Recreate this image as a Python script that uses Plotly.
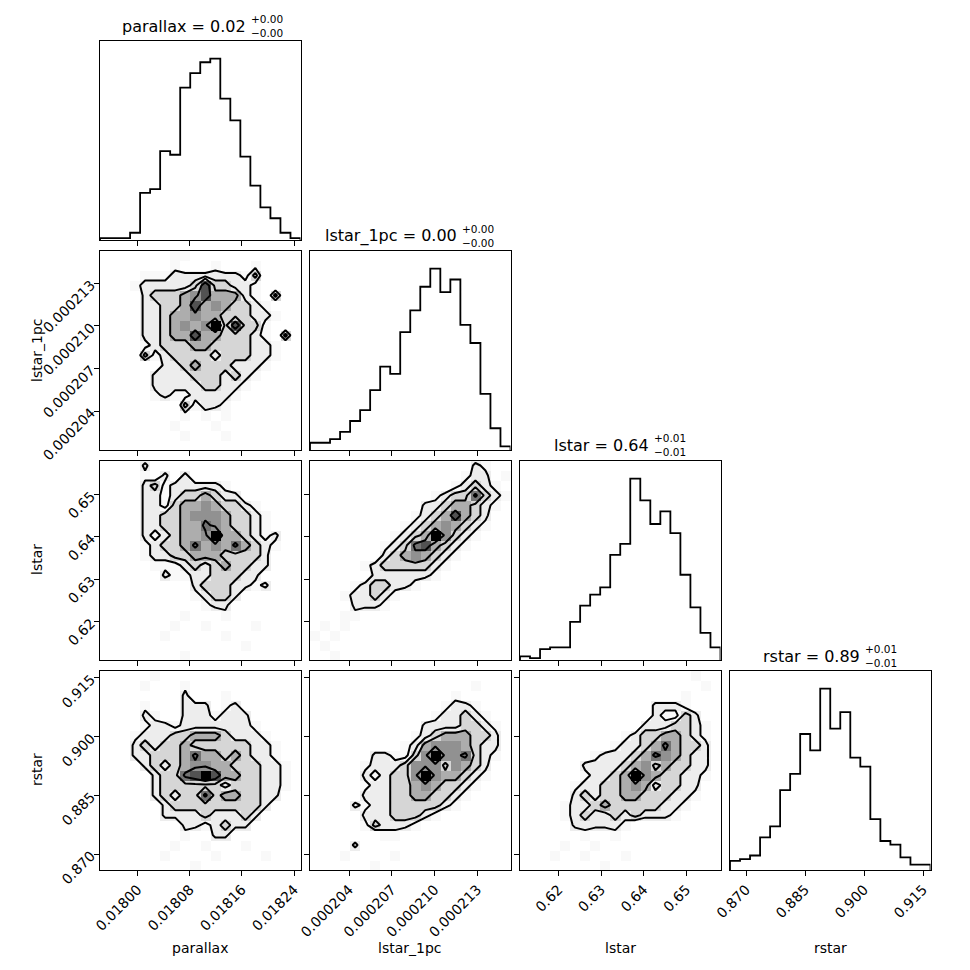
import numpy as np
import plotly.graph_objects as go

# nombres de los parámetros del corner plot
params = ["parallax", "lstar_1pc", "lstar", "rstar"]

# límites de los ejes
rango_parallax = [0.0179422, 0.0182498]
rango_lstar_1pc = [0.00020126, 0.00021532]
rango_lstar = [0.61095, 0.65803]
rango_rstar = [0.86593, 0.91688]

# marcas de los ejes
ticks_parallax = [0.01800, 0.01808, 0.01816, 0.01824]
ticks_lstar_1pc = [0.000204, 0.000207, 0.000210, 0.000213]
ticks_lstar = [0.62, 0.63, 0.64, 0.65]
ticks_rstar = [0.870, 0.885, 0.900, 0.915]
etiquetas_parallax = ["0.01800", "0.01808", "0.01816", "0.01824"]
etiquetas_lstar_1pc = ["0.000204", "0.000207", "0.000210", "0.000213"]
etiquetas_lstar = ["0.62", "0.63", "0.64", "0.65"]
etiquetas_rstar = ["0.870", "0.885", "0.900", "0.915"]

# valores de los títulos (mediana y errores)
medianas = ["0.02", "0.00", "0.64", "0.89"]
err_mas = ["0.00", "0.00", "0.01", "0.01"]
err_menos = ["0.00", "0.00", "0.01", "0.01"]

# histogramas 1D (20 bins, cuentas estimadas)
hist_parallax = [1, 1, 1, 4, 26, 28, 49, 47, 84, 92, 98, 100, 78, 66, 46, 30, 18, 12, 4, 1]
hist_lstar_1pc = [4, 4, 6, 10, 16, 22, 33, 46, 42, 65, 77, 90, 100, 87, 94, 69, 59, 31, 12, 2]
hist_lstar = [2, 1, 6, 7, 7, 21, 30, 36, 40, 58, 64, 100, 88, 75, 82, 70, 47, 29, 15, 7]
hist_rstar = [5, 6, 8, 18, 24, 44, 53, 75, 66, 100, 78, 87, 62, 57, 28, 16, 14, 7, 3, 3]

# niveles de contorno (en las unidades de las grillas 2D)
niveles_contorno = [1.5, 2.5, 3.5, 5.5]

# tono de gris para cada valor 0-9 de las grillas (1 = blanco)
grises = [1.0, 0.975, 0.93, 0.84, 0.68, 0.57, 0.45, 0.32, 0.16, 0.0]

# histogramas 2D (20x20, fila de arriba primero, cuentas relativas 0-9)
dens_parallax_lstar_1pc = [
    "00000001100000000000",
    "00000001000100010000",
    "00001112222222130000",
    "00012222237332210000",
    "00002333457444210300",
    "00002233474543321000",
    "00002234454433322100",
    "00002234545937331000",
    "00002234474433321030",
    "00001233344333322100",
    "00003123333233322100",
    "00000022343332221000",
    "00000222233323210000",
    "00000222223322100000",
    "00000121122221000000",
    "00000000312210000000",
    "00000000101010000000",
    "00000001000100000000",
    "00000000100010000000",
    "00000000000000000000",
]
dens_parallax_lstar = [
    "00002000000000000000",
    "00001020200000000000",
    "00002312222210000000",
    "00002212334322000000",
    "00002213445433210000",
    "00002233455543321000",
    "00002233446543321000",
    "00002123445944321200",
    "00001233464546432100",
    "00001223344433332000",
    "00000111232343322000",
    "00000021122333220000",
    "00000000023332212000",
    "00000000012332000000",
    "00000000001220000000",
    "00000000100010000000",
    "00000001001000010000",
    "00000010000010000000",
    "00000000000000100000",
    "00000000100000000000",
]
dens_lstar_1pc_lstar = [
    "00000000000000002100",
    "00000000000000012201",
    "00000000000000123210",
    "00000000000012336321",
    "00000000000223443210",
    "00000000001234743200",
    "00000000012345432100",
    "00000000123495321000",
    "00000001236743210000",
    "00000002345432100000",
    "00000123333321000000",
    "00000022222210000000",
    "00001233221000000000",
    "00012232100000000000",
    "00002221000000000000",
    "00011000000000000000",
    "01010000000000000000",
    "10100000000000000000",
    "01000000000000000000",
    "00100000000000000000",
]
dens_parallax_rstar = [
    "00000100000000000000",
    "00001000100000000000",
    "00000000200010000000",
    "00001000222012000000",
    "00002100222122200000",
    "00001221222222210000",
    "00012223344432221000",
    "00023233433333322100",
    "00022333464434322100",
    "00002323455443332210",
    "00000233679744332210",
    "00000233333323332210",
    "00000232336344332200",
    "00000023333333332000",
    "00000022223222320000",
    "00000000221232200000",
    "00000000100220000000",
    "00000001001000100000",
    "00000010000100001000",
    "00000000010000000000",
]
dens_lstar_1pc_rstar = [
    "00000000000000000000",
    "00000000000000001000",
    "00000000000000100000",
    "00000000000001221000",
    "00000000000012232100",
    "00000000000222233210",
    "00000000001234443320",
    "00000000012455543220",
    "00000022113595563210",
    "00000122235553543200",
    "00000212335954432100",
    "00000122334543321000",
    "00000222334433210000",
    "00002122333332100000",
    "00000222333210000000",
    "00000132221000000000",
    "00000001100000000000",
    "00002000000000000000",
    "00010000100000000000",
    "00000010000000000000",
]
dens_lstar_rstar = [
    "00000000000000000100",
    "00000000000000000010",
    "00000000000000001000",
    "00000000000002221000",
    "00000000000002113200",
    "00000000000022233210",
    "00000000001233443210",
    "00000000012234643320",
    "00000001222346543220",
    "00000022223453433220",
    "00000012234954332210",
    "00000122334542332200",
    "00000232334433322100",
    "00001223433333221000",
    "00001232232322210000",
    "00000222221000000000",
    "00000010010000000000",
    "00001001000000000000",
    "00010010001000000000",
    "00000000100000000000",
]

rangos = [rango_parallax, rango_lstar_1pc, rango_lstar, rango_rstar]
ticks = [ticks_parallax, ticks_lstar_1pc, ticks_lstar, ticks_rstar]
etiquetas = [etiquetas_parallax, etiquetas_lstar_1pc, etiquetas_lstar, etiquetas_rstar]
hists = [hist_parallax, hist_lstar_1pc, hist_lstar, hist_rstar]
dens = {(1, 0): dens_parallax_lstar_1pc, (2, 0): dens_parallax_lstar, (2, 1): dens_lstar_1pc_lstar,
        (3, 0): dens_parallax_rstar, (3, 1): dens_lstar_1pc_rstar, (3, 2): dens_lstar_rstar}

W = 970
OFF = 8  # margen del body de la página
FUENTE = "DejaVu Sans"
NB = 20


def px(x):
    return (x - OFF) / W


def py(y):
    return 1 - (y - OFF) / W


def a_grilla(filas):
    H = np.array([[int(ch) for ch in f.ljust(NB, "0")[:NB]] for f in filas], dtype=float)
    return H[::-1]  # fila de abajo primero


# escala de grises por valor
escala = []
for k, g in enumerate(grises):
    c = int(round(255 * g))
    escala.append([k / (len(grises) - 1), f"rgb({c},{c},{c})"])

fig = go.Figure()
layout = dict(width=W, height=W, margin=dict(l=0, r=0, t=0, b=0, autoexpand=False),
              plot_bgcolor="white", paper_bgcolor="white", showlegend=False,
              font=dict(family=FUENTE, size=14, color="black"))
anotaciones = []

# borde derecho del texto principal de cada título (px)
borde_titulo = [248, 459, 651, 862]

n = 0
for i in range(4):
    for j in range(i + 1):
        n += 1
        xs = "x" if n == 1 else f"x{n}"
        ys = "y" if n == 1 else f"y{n}"
        x0 = 100 + 210 * j
        top = 40.5 + 210 * i
        eje_x = dict(domain=[px(x0), px(x0 + 200.5)], anchor=ys, range=rangos[j], automargin=False,
                     tickvals=ticks[j], ticktext=etiquetas[j], showticklabels=(i == 3),
                     tickangle=-45, ticks="outside", ticklen=5, tickwidth=1, tickcolor="black",
                     showline=True, mirror=True, linecolor="black", linewidth=1,
                     showgrid=False, zeroline=False, tickfont=dict(size=14))
        eje_y = dict(domain=[py(top + 199.5), py(top)], anchor=xs, automargin=False,
                     showline=True, mirror=True, linecolor="black", linewidth=1,
                     showgrid=False, zeroline=False, tickangle=-45, tickfont=dict(size=14))
        lo, hi = rangos[j]
        bordes_x = np.linspace(lo, hi, NB + 1)
        if i == j:
            cuentas = hists[j]
            eje_y.update(range=[0, 1.1 * max(cuentas)], ticks="", showticklabels=False)
            xh = [bordes_x[0]] + list(bordes_x) + [bordes_x[-1]]
            yh = [0] + list(cuentas) + [cuentas[-1], 0]
            fig.add_trace(go.Scatter(x=xh, y=yh, mode="lines", line=dict(color="black", width=1.8, shape="hv"),
                                     xaxis=xs, yaxis=ys, hoverinfo="skip"))
            # título con errores apilados
            bx = borde_titulo[j]
            anotaciones.append(dict(text=f"{params[j]} = {medianas[j]}", x=px(bx), y=py(top - 14.5),
                                    xref="paper", yref="paper", showarrow=False,
                                    xanchor="right", yanchor="middle", font=dict(size=16)))
            anotaciones.append(dict(text="+" + err_mas[j] + "<br>\u2212" + err_menos[j],
                                    x=px(bx + 1), y=py(top - 15), align="left",
                                    xref="paper", yref="paper", showarrow=False,
                                    xanchor="left", yanchor="middle", font=dict(size=10.5)))
        else:
            ylo, yhi = rangos[i]
            bordes_y = np.linspace(ylo, yhi, NB + 1)
            eje_y.update(range=rangos[i], tickvals=ticks[i], ticktext=etiquetas[i],
                         showticklabels=(j == 0), ticks="outside", ticklen=5, tickwidth=1, tickcolor="black")
            H = a_grilla(dens[(i, j)])
            fig.add_trace(go.Heatmap(x=bordes_x, y=bordes_y, z=H, zmin=0, zmax=len(grises) - 1,
                                     colorscale=escala, showscale=False, xaxis=xs, yaxis=ys, hoverinfo="skip"))
            # contornos sobre centros de bin, con borde de ceros
            dx = bordes_x[1] - bordes_x[0]
            dy = bordes_y[1] - bordes_y[0]
            cxs = np.concatenate([bordes_x[0] + dx * np.array([-1.5, -0.5]), 0.5 * (bordes_x[1:] + bordes_x[:-1]),
                                  bordes_x[-1] + dx * np.array([0.5, 1.5])])
            cys = np.concatenate([bordes_y[0] + dy * np.array([-1.5, -0.5]), 0.5 * (bordes_y[1:] + bordes_y[:-1]),
                                  bordes_y[-1] + dy * np.array([0.5, 1.5])])
            H2 = np.zeros((NB + 4, NB + 4))
            H2[2:-2, 2:-2] = H
            for lv in niveles_contorno:
                fig.add_trace(go.Contour(x=cxs, y=cys, z=H2, autocontour=False,
                                         contours=dict(start=lv, end=lv, size=1, coloring="lines"),
                                         colorscale=[[0, "black"], [1, "black"]], showscale=False,
                                         line=dict(width=2, smoothing=0), xaxis=xs, yaxis=ys, hoverinfo="skip"))
        layout["xaxis" if n == 1 else f"xaxis{n}"] = eje_x
        layout["yaxis" if n == 1 else f"yaxis{n}"] = eje_y

# etiquetas de los ejes
for k in range(4):
    anotaciones.append(dict(text=params[k], x=px(200 + 210 * k), y=py(948), xref="paper", yref="paper",
                            showarrow=False, xanchor="center", yanchor="middle", font=dict(size=14)))
for k in range(1, 4):
    anotaciones.append(dict(text=params[k], x=px(37), y=py(140 + 210 * k), xref="paper", yref="paper",
                            showarrow=False, xanchor="center", yanchor="middle", textangle=-90,
                            font=dict(size=14)))

layout["annotations"] = anotaciones
fig.update_layout(**layout)

fig.write_html("out.html")
